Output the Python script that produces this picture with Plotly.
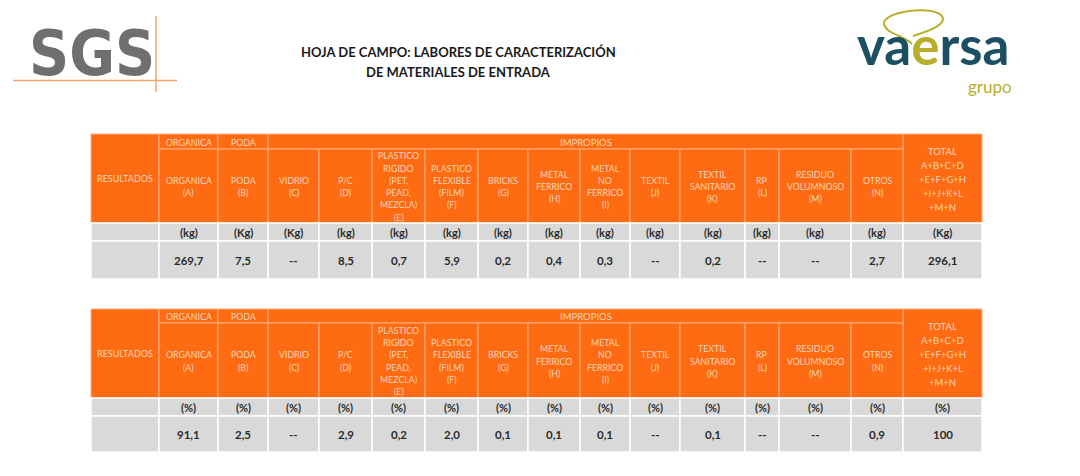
import plotly.graph_objects as go

# ---------------- data ----------------
col_headers = [
    ["RESULTADOS"],
    ["ORGANICA", "(A)"],
    ["PODA", "(B)"],
    ["VIDRIO", "(C)"],
    ["P/C", "(D)"],
    ["PLASTICO", "RIGIDO", "(PET,", "PEAD,", "MEZCLA)", "(E)"],
    ["PLASTICO", "FLEXIBLE", "(FILM)", "(F)"],
    ["BRICKS", "(G)"],
    ["METAL", "FERRICO", "(H)"],
    ["METAL", "NO", "FERRICO", "(I)"],
    ["TEXTIL", "(J)"],
    ["TEXTIL", "SANITARIO", "(K)"],
    ["RP", "(L)"],
    ["RESIDUO", "VOLUMNOSO", "(M)"],
    ["OTROS", "(N)"],
    ["TOTAL", "A+B+C+D", "+E+F+G+H", "+I+J+K+L", "+M+N"],
]
group_labels = ["ORGANICA", "PODA", "IMPROPIOS"]
group_first_col = [1, 2, 3]
group_last_col = [1, 2, 14]

units_kg = ["(kg)", "(Kg)", "(Kg)", "(kg)", "(kg)", "(kg)", "(kg)", "(kg)",
            "(kg)", "(kg)", "(kg)", "(kg)", "(kg)", "(kg)", "(Kg)"]
values_kg = ["269,7", "7,5", "--", "8,5", "0,7", "5,9", "0,2", "0,4",
             "0,3", "--", "0,2", "--", "--", "2,7", "296,1"]
units_pct = ["(%)"] * 15
values_pct = ["91,1", "2,5", "--", "2,9", "0,2", "2,0", "0,1", "0,1",
              "0,1", "--", "0,1", "--", "--", "0,9", "100"]

title_lines = ["HOJA DE CAMPO: LABORES DE CARACTERIZACIÓN", "DE MATERIALES DE ENTRADA"]

# ---------------- layout / style ----------------
W, H = 1080, 476
col_edges = [91, 159, 218, 268, 319, 372, 425, 478, 528, 580, 630, 680, 745, 779, 851, 903, 982]
tables = [
    dict(rows=[134, 149, 223, 241, 279], units=units_kg, values=values_kg),
    dict(rows=[309, 323, 398, 416, 452], units=units_pct, values=values_pct),
]
ORANGE = "#FE6B12"
ORANGE_LINE = "#FBAF7C"
GRAY = "#D9D9D9"
HEAD_TXT = "#FDD6BA"
DARK = "#2B2B2B"
FONT = "Lato, Open Sans, sans-serif"

shapes = []
annotations = []


def rect(x0, x1, y0, y1, fill, line, lw):
    shapes.append(dict(type="rect", xref="x", yref="y", x0=x0, x1=x1, y0=y0, y1=y1,
                       fillcolor=fill, line=dict(color=line, width=lw), layer="below"))


def text(x, y, s, size, color, bold=False, family=FONT, xanchor="center", **kw):
    annotations.append(dict(x=x, y=y, xref="x", yref="y", text=f"<b>{s}</b>" if bold else s,
                            showarrow=False, xanchor=xanchor, yanchor="middle",
                            font=dict(size=size, color=color, family=family), **kw))


def lines_text(xc, yc, lines, size, spacing, color):
    n = len(lines)
    for i, ln in enumerate(lines):
        text(xc, yc + (i - (n - 1) / 2) * spacing, ln, size, color)


ncol = len(col_headers)
for t in tables:
    r = t["rows"]
    # merged header cells: first and last column
    for c in (0, ncol - 1):
        rect(col_edges[c], col_edges[c + 1], r[0], r[2], ORANGE, ORANGE_LINE, 1)
    # group row
    for g, c0, c1 in zip(group_labels, group_first_col, group_last_col):
        rect(col_edges[c0], col_edges[c1 + 1], r[0], r[1], ORANGE, ORANGE_LINE, 1)
        text((col_edges[c0] + col_edges[c1 + 1]) / 2, (r[0] + r[1]) / 2 + 0.5, g,
             9.5 if g == "IMPROPIOS" else 8.8, HEAD_TXT)
    # column header row
    for c in range(1, ncol - 1):
        rect(col_edges[c], col_edges[c + 1], r[1], r[2], ORANGE, ORANGE_LINE, 1)
    for c, hdr in enumerate(col_headers):
        xc = (col_edges[c] + col_edges[c + 1]) / 2
        if c == 0:
            lines_text(xc, (r[0] + r[2]) / 2, hdr, 9, 12.3, HEAD_TXT)
        elif c == ncol - 1:
            lines_text(xc, (r[0] + r[2]) / 2 + 1, hdr, 9.5, 14, HEAD_TXT)
        else:
            lines_text(xc, (r[1] + r[2]) / 2 + 0.5, hdr, 8.8, 12.3, HEAD_TXT)
    # units + values rows
    for c in range(ncol):
        rect(col_edges[c], col_edges[c + 1], r[2], r[3], GRAY, "white", 1.5)
        rect(col_edges[c], col_edges[c + 1], r[3], r[4], GRAY, "white", 1.5)
    for c in range(1, ncol):
        xc = (col_edges[c] + col_edges[c + 1]) / 2
        text(xc, (r[2] + r[3]) / 2 + 0.5, t["units"][c - 1], 11, DARK, bold=True)
        text(xc, (r[3] + r[4]) / 2, t["values"][c - 1], 11.5, DARK, bold=True)

# title
text(458, 52, title_lines[0], 13, "#1A1A1A", bold=True)
text(458, 72, title_lines[1], 13, "#1A1A1A", bold=True)

# SGS logo
text(157, 53, "SGS", 62, "#6F6F6F", bold=True,
     family="Liberation Sans Narrow, Arial Narrow, DejaVu Sans Condensed, sans-serif",
     xanchor="right")
shapes.append(dict(type="line", xref="x", yref="y", x0=13, x1=177, y0=80.5, y1=80.5,
                   line=dict(color="#F3A46B", width=1.5), layer="above"))
shapes.append(dict(type="line", xref="x", yref="y", x0=156, x1=156, y0=16, y1=92,
                   line=dict(color="#F3A46B", width=1.5), layer="above"))

# vaersa logo
TEAL = "#1C4F62"
OLIVE = "#B9AE2C"
annotations.append(dict(x=933, y=44, xref="x", yref="y", showarrow=False,
                        xanchor="center", yanchor="middle",
                        text=f"<b><span style='color:{TEAL}'>va</span><span style='color:{OLIVE}'>e</span>"
                             f"<span style='color:{TEAL}'>rsa</span></b>",
                        font=dict(size=53, family=FONT, color=TEAL)))
text(1014, 86, "grupo", 17, OLIVE, xanchor="right")
shapes.append(dict(type="path", xref="x", yref="y",
                   path="M 912,44 C 905,36 886,34 884,24 C 882,12 930,5 941,15 "
                        "C 950,25 925,32 913,36",
                   line=dict(color=OLIVE, width=2), fillcolor="rgba(0,0,0,0)", layer="above"))

fig = go.Figure()
fig.update_layout(
    width=W, height=H, margin=dict(l=0, r=0, t=0, b=0),
    paper_bgcolor="white", plot_bgcolor="white",
    xaxis=dict(range=[0, W], visible=False, fixedrange=True),
    yaxis=dict(range=[H, 0], visible=False, fixedrange=True),
    shapes=shapes, annotations=annotations, showlegend=False,
)
fig.write_html("out.html", config={"displayModeBar": False, "staticPlot": True},
               post_script="document.body.style.margin='0px';document.body.style.overflow='hidden';")
